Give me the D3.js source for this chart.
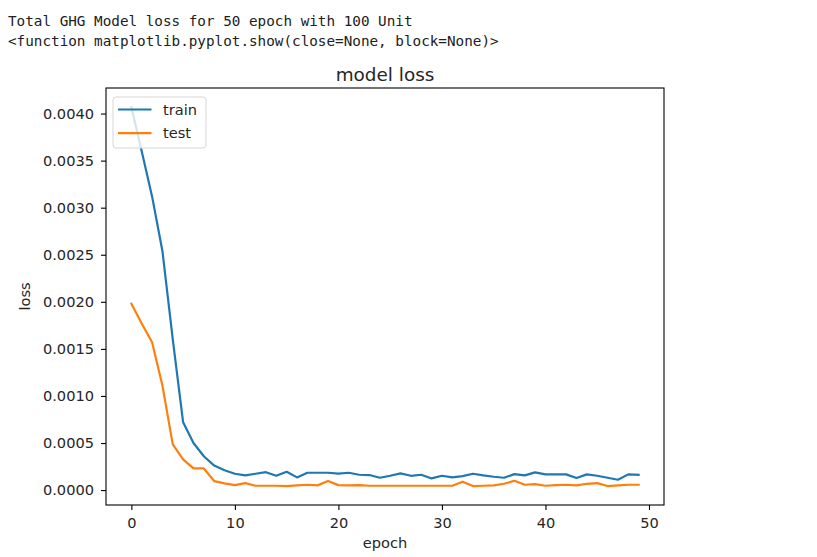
<!DOCTYPE html>
<html>
<head>
<meta charset="utf-8">
<script src="https://cdn.jsdelivr.net/npm/d3@7"></script>
<style>
  body { margin: 0; background: #fff; }
  .out { font-family: "DejaVu Sans Mono", monospace; font-size: 14.3px; fill: #212121; }
  .mpl { font-family: "DejaVu Sans", sans-serif; fill: #262626; }
</style>
</head>
<body>
<svg id="chart" width="817" height="557"></svg>
<script>
// notebook output lines
const outputLines = [
  'Total GHG Model loss for 50 epoch with 100 Unit',
  '<function matplotlib.pyplot.show(close=None, block=None)>'
]

// loss per epoch
const train = [
  0.00407, 0.00360, 0.00312, 0.00254, 0.00160, 0.00072, 0.00050, 0.00036, 0.00026, 0.00021,
  0.000174, 0.000156, 0.000174, 0.00019, 0.000152, 0.000195, 0.000135, 0.000184, 0.000184, 0.000184,
  0.000174, 0.000184, 0.000163, 0.00016, 0.000131, 0.000152, 0.000177, 0.000152, 0.000163, 0.000124,
  0.000152, 0.000135, 0.000149, 0.000174, 0.000156, 0.000142, 0.000131, 0.00017, 0.000156, 0.000188,
  0.000167, 0.000167, 0.000167, 0.000128, 0.000167, 0.000152, 0.000131, 0.00011, 0.000167, 0.000163
]
const test = [
  0.00198, 0.00177, 0.00157, 0.00111, 0.000486, 0.000326, 0.00023, 0.00023, 0.000096, 0.000071,
  0.000053, 0.000074, 0.000046, 0.000046, 0.000046, 0.000043, 0.00005, 0.000057, 0.00005, 0.000096,
  0.000053, 0.00005, 0.000053, 0.000046, 0.000046, 0.000046, 0.000046, 0.000046, 0.000046, 0.000046,
  0.000046, 0.000046, 0.000089, 0.000043, 0.000046, 0.00005, 0.000067, 0.000099, 0.000057, 0.000064,
  0.000046, 0.000053, 0.000057, 0.00005, 0.000067, 0.000074, 0.000043, 0.00005, 0.000057, 0.000057
]
const xTicks = [0, 10, 20, 30, 40, 50]
const yTicks = [0, 0.0005, 0.001, 0.0015, 0.002, 0.0025, 0.003, 0.0035, 0.004]
const seriesNames = ['train', 'test']
const colors = ['#1f77b4', '#ff7f0e']

const svg = d3.select('#chart')

svg.selectAll('text.out')
  .data(outputLines)
  .join('text')
  .attr('class', 'out')
  .attr('x', 8)
  .attr('y', (d, i) => 26 + i * 20)
  .text((d) => d)

// axes box
const box = { left: 106, right: 664, top: 88, bottom: 505 }
const fontSize = '14.6px'

// matplotlib-like 5% margins
const xExtent = [0, train.length - 1]
const xPad = (xExtent[1] - xExtent[0]) * 0.05
const x = d3.scaleLinear()
  .domain([xExtent[0] - xPad, xExtent[1] + xPad])
  .range([box.left, box.right])

const allVals = train.concat(test)
const yMin = d3.min(allVals), yMax = d3.max(allVals)
const yPad = (yMax - yMin) * 0.05
const y = d3.scaleLinear()
  .domain([yMin - yPad, yMax + yPad])
  .range([box.bottom, box.top])

const line = d3.line()
  .x((d, i) => x(i))
  .y((d) => y(d))

const plot = svg.append('g').attr('id', 'plot')

plot.selectAll('path.series')
  .data([train, test])
  .join('path')
  .attr('class', 'series')
  .attr('fill', 'none')
  .attr('stroke', (d, i) => colors[i])
  .attr('stroke-width', 2.2)
  .attr('stroke-linejoin', 'round')
  .attr('stroke-linecap', 'square')
  .attr('d', line)

// axes
const xAxis = svg.append('g')
  .attr('transform', `translate(0,${box.bottom})`)
  .call(d3.axisBottom(x).tickValues(xTicks).tickSize(5).tickPadding(7.5).tickSizeOuter(0))
const yAxis = svg.append('g')
  .attr('transform', `translate(${box.left},0)`)
  .call(d3.axisLeft(y).tickValues(yTicks).tickFormat(d3.format('.4f')).tickSize(5).tickPadding(7).tickSizeOuter(0))

;[xAxis, yAxis].forEach((a) => {
  a.select('.domain').remove()
  a.selectAll('line').attr('stroke', '#000').attr('stroke-width', 1.1)
  a.selectAll('text')
    .attr('class', 'mpl')
    .style('font-size', fontSize)
    .attr('fill', '#262626')
})

// spines
svg.append('rect')
  .attr('x', box.left)
  .attr('y', box.top)
  .attr('width', box.right - box.left)
  .attr('height', box.bottom - box.top)
  .attr('fill', 'none')
  .attr('stroke', '#000')
  .attr('stroke-width', 1.1)

// title and labels
svg.append('text')
  .attr('class', 'mpl')
  .attr('x', (box.left + box.right) / 2)
  .attr('y', 81)
  .attr('text-anchor', 'middle')
  .style('font-size', '18.4px')
  .text('model loss')

svg.append('text')
  .attr('class', 'mpl')
  .attr('x', (box.left + box.right) / 2)
  .attr('y', 548)
  .attr('text-anchor', 'middle')
  .style('font-size', fontSize)
  .text('epoch')

svg.append('text')
  .attr('class', 'mpl')
  .attr('transform', `translate(30,${(box.top + box.bottom) / 2}) rotate(-90)`)
  .attr('text-anchor', 'middle')
  .style('font-size', fontSize)
  .text('loss')

// legend
const legend = svg.append('g').attr('transform', `translate(${box.left + 7},${box.top + 9})`)
legend.append('rect')
  .attr('width', 93)
  .attr('height', 51)
  .attr('rx', 3)
  .attr('fill', '#fff')
  .attr('fill-opacity', 0.8)
  .attr('stroke', '#d6d6d6')
  .attr('stroke-width', 1)
const items = legend.selectAll('g.item')
  .data(seriesNames)
  .join('g')
  .attr('class', 'item')
  .attr('transform', (d, i) => `translate(0,${12.5 + i * 23.7})`)
items.append('line')
  .attr('x1', 5).attr('x2', 38.5)
  .attr('stroke', (d, i) => colors[i])
  .attr('stroke-width', 2.2)
items.append('text')
  .attr('class', 'mpl')
  .attr('x', 50)
  .attr('y', 5)
  .style('font-size', fontSize)
  .text((d) => d)
</script>
</body>
</html>
